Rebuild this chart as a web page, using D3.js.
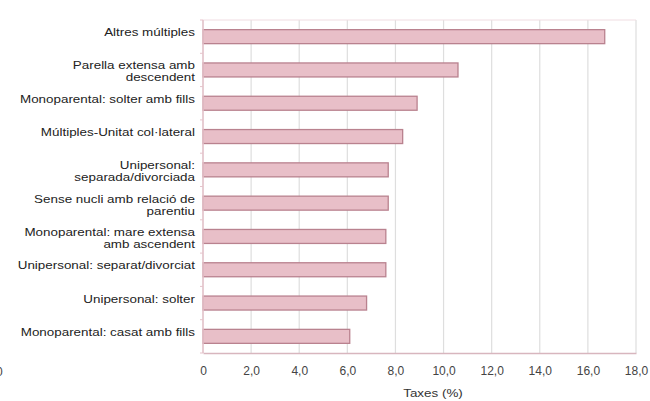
<!DOCTYPE html>
<html lang="ca">
<head>
<meta charset="UTF-8" />
<title>Taxes (%)</title>
<script src="https://cdn.jsdelivr.net/npm/d3@7"></script>
<style>
  body { margin: 0; background: #fff; }
  svg { display: block; font-family: "Liberation Sans", Arial, sans-serif; }
  .bar { fill: #e8bfc8; stroke: #b9828f; stroke-width: 1.3px; }
  .grid line { stroke: #dedede; stroke-width: 1.2px; }
  .catLabel { fill: #222; font-size: 11px; }
  .tickLabel { fill: #444; font-size: 12px; }
  .axisTitle { fill: #333; font-size: 11px; }
</style>
</head>
<body>
<script>
// categories top to bottom, "\n" marks a line break in the label
var categories = [
  "Altres múltiples",
  "Parella extensa amb\ndescendent",
  "Monoparental: solter amb fills",
  "Múltiples-Unitat col·lateral",
  "Unipersonal:\nseparada/divorciada",
  "Sense nucli amb relació de\nparentiu",
  "Monoparental: mare extensa\namb ascendent",
  "Unipersonal: separat/divorciat",
  "Unipersonal: solter",
  "Monoparental: casat amb fills"
];
var rates = [16.7, 10.6, 8.9, 8.3, 7.7, 7.7, 7.6, 7.6, 6.8, 6.1];
var xTicks = [0, 2, 4, 6, 8, 10, 12, 14, 16, 18];
var xTickLabels = ["0", "2,0", "4,0", "6,0", "8,0", "10,0", "12,0", "14,0", "16,0", "18,0"];

var width = 650, height = 401;
var margin = { top: 20, right: 14, bottom: 48, left: 203 };
var stretch = 1.22; // the reference text is drawn wide

var svg = d3.select("body").append("svg")
  .attr("width", width)
  .attr("height", height);

var x = d3.scaleLinear()
  .domain([0, 18])
  .range([margin.left, width - margin.right]);

var y = d3.scaleBand()
  .domain(categories)
  .range([margin.top, height - margin.bottom])
  .paddingInner(0.58)
  .paddingOuter(0.29);

// vertical grid
svg.append("g")
  .attr("class", "grid")
  .selectAll("line")
  .data(xTicks)
  .join("line")
  .attr("x1", function(d) { return x(d); })
  .attr("x2", function(d) { return x(d); })
  .attr("y1", margin.top)
  .attr("y2", height - margin.bottom);

// top border
svg.append("line")
  .attr("x1", x(0)).attr("x2", x(18))
  .attr("y1", margin.top).attr("y2", margin.top)
  .attr("stroke", "#f0dde2").attr("stroke-width", 1);

// bars
svg.selectAll("rect.bar")
  .data(rates)
  .join("rect")
  .attr("class", "bar")
  .attr("x", x(0))
  .attr("y", function(d, i) { return y(categories[i]); })
  .attr("width", function(d) { return x(d) - x(0); })
  .attr("height", y.bandwidth());

// left axis with small ticks at band edges
var plotH = height - margin.bottom - margin.top;
var yAxisG = svg.append("g");
yAxisG.append("line")
  .attr("x1", x(0)).attr("x2", x(0))
  .attr("y1", margin.top).attr("y2", height - margin.bottom)
  .attr("stroke", "#e6c3cb").attr("stroke-width", 1.5);
yAxisG.selectAll("line.tk")
  .data(d3.range(categories.length + 1))
  .join("line")
  .attr("class", "tk")
  .attr("x1", x(0) - 3).attr("x2", x(0))
  .attr("y1", function(i) { return margin.top + i * plotH / categories.length; })
  .attr("y2", function(i) { return margin.top + i * plotH / categories.length; })
  .attr("stroke", "#e6c3cb");

// bottom axis
var xAxis = d3.axisBottom(x)
  .tickValues(xTicks)
  .tickSize(0)
  .tickPadding(13)
  .tickFormat(function(d, i) { return xTickLabels[i]; });
var xAxisG = svg.append("g")
  .attr("transform", "translate(0," + (height - margin.bottom) + ")")
  .call(xAxis);
xAxisG.select(".domain").attr("stroke", "#d8b6be").attr("stroke-width", 1.5);
xAxisG.selectAll("text")
  .attr("class", "tickLabel")
  .attr("font-family", null)
  .attr("font-size", null)
  .attr("fill", null);

// category labels
svg.selectAll("text.catLabel")
  .data(categories)
  .join("text")
  .attr("class", "catLabel")
  .attr("text-anchor", "end")
  .attr("transform", function(d) {
    return "translate(" + (margin.left - 8) + "," + (y(d) + 6.5) + ") scale(" + stretch + ",1)";
  })
  .each(function(d) {
    var lines = d.split("\n");
    var t = d3.select(this);
    lines.forEach(function(l, k) {
      t.append("tspan")
        .attr("x", 0)
        .attr("dy", k === 0 ? 0 : 12)
        .text(l);
    });
  });

// axis title
svg.append("text")
  .attr("class", "axisTitle")
  .attr("text-anchor", "middle")
  .attr("transform", "translate(433,397) scale(" + stretch + ",1)")
  .text("Taxes (%)");

// stray clipped zero at the left edge
svg.append("text")
  .attr("class", "tickLabel")
  .attr("x", -4)
  .attr("y", 376)
  .text("0");
</script>
</body>
</html>
